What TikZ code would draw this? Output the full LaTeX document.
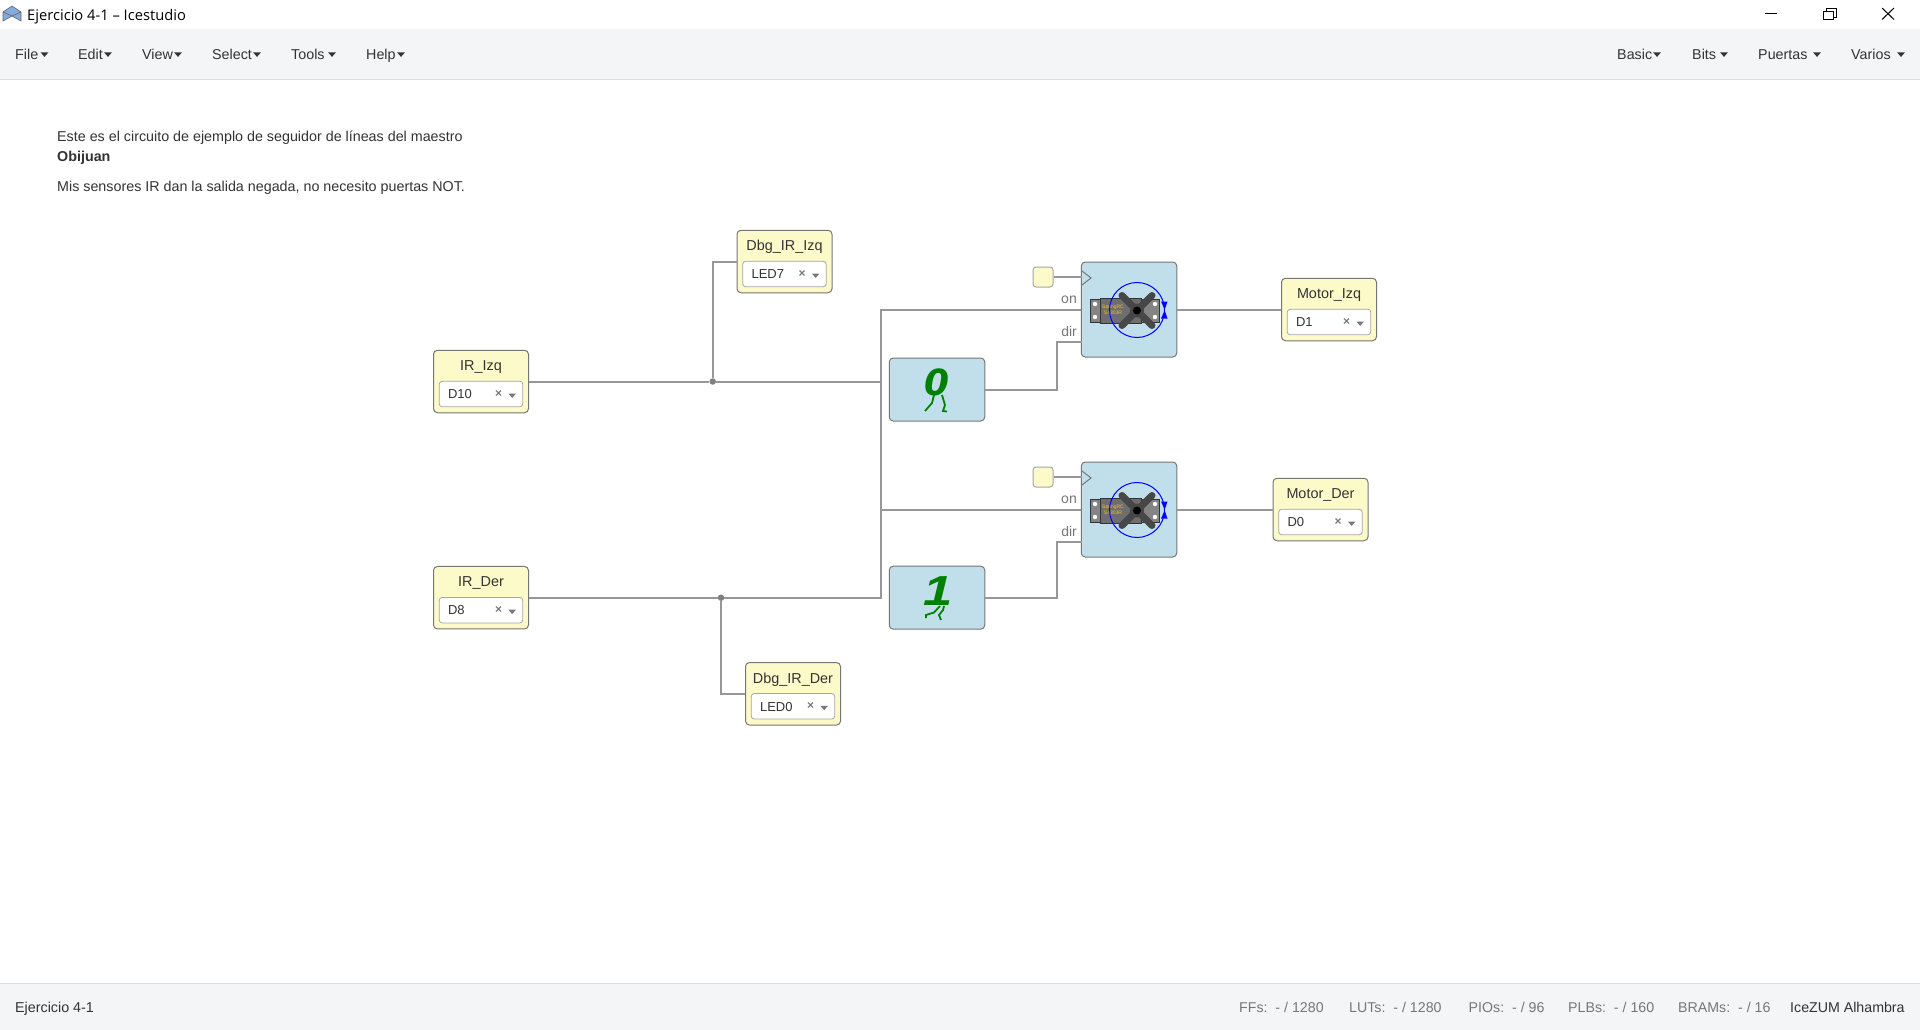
\documentclass[tikz,border=0pt]{standalone}
\usepackage{fontspec}
\setmainfont{Liberation Sans}
\newfontfamily\titlefont{Open Sans}
\newfontfamily\digitfont{DejaVu Sans}
\usepackage{xcolor}
\usetikzlibrary{positioning}
\definecolor{BarGray}{HTML}{F4F5F7}
\definecolor{BarLine}{HTML}{DDDDDD}
\definecolor{PioYellow}{HTML}{FCFAC8}
\definecolor{CodeBlue}{HTML}{C1DFEB}
\definecolor{BlockEdge}{HTML}{777777}
\definecolor{WireGray}{HTML}{979797}
\definecolor{InkDark}{HTML}{333333}
\definecolor{InkGray}{HTML}{777777}
\definecolor{DigitGreen}{HTML}{008000}
\definecolor{HornGray}{HTML}{474747}
\definecolor{BodyGray}{HTML}{6E6E6E}
\definecolor{BrandYellow}{HTML}{F7C325}

% block with a name on top and a pin selector below
\newcommand{\pioblock}[4]{%
  \node[pio] (#1) at (#2) {};
  \node[piolabel] (#1name) at ([yshift=14.3]#1.center) {#3};
  \node[pinbox] (#1box) at ([yshift=-12.5]#1.center) {};
  \node[pinvalue] (#1pin) at ([xshift=9,yshift=-0.3]#1box.west) {#4};
  \node[pinclear] (#1clear) at ([xshift=-24.5]#1box.east) {×};
  \pic at ([xshift=-11,yshift=-1.5]#1box.east) {caret=InkGray};
}

\tikzset{
  caret/.pic={\fill[#1] (-3.8,-2) -- (3.8,-2) -- (0,2.4) -- cycle;},
  servo/.pic={
    % plate and body
    \draw[black!80, fill=BodyGray!85, line width=0.5] (-39,-10.5) rectangle (30,12.5);
    \draw[black!80, fill=BodyGray, line width=0.5] (-29,-11.5) rectangle (12,13.5);
    \fill[white] (-34,-5.5) circle (2.2) (-34,7.5) circle (2.2) (26,-5.5) circle (2.2) (26,7.5) circle (2.2);
    \node[brand] (brand) at (-16,0.5) {SpringRC\\S4303R};
    % horn
    \draw[HornGray, line width=7, line cap=round] (-7,-14) -- (23,16) (-7,16) -- (23,-14);
    \fill[HornGray] (8,1) circle (7);
    \fill[black] (8,1) circle (4);
    % rotation arrows
    \draw[blue, line width=1] (8,0.5) circle (27.5);
    \fill[blue] (32,-8) -- (38.5,-8) -- (35.7,0) -- cycle;
    \fill[blue] (32,9) -- (38.5,9) -- (35.7,1) -- cycle;
  }
}

\begin{document}
\begin{tikzpicture}[
  x=1pt, y=-1pt,
  pio/.style={rectangle, rounded corners=4pt, draw=BlockEdge, fill=PioYellow, line width=1pt, minimum width=95pt, minimum height=62.5pt, inner sep=0pt},
  code/.style={rectangle, rounded corners=4pt, draw=BlockEdge, fill=CodeBlue, line width=1pt, minimum width=95.5pt, minimum height=#1, inner sep=0pt},
  clockbox/.style={rectangle, rounded corners=3pt, draw=gray!70, fill=PioYellow, line width=1pt, minimum width=20pt, minimum height=20pt, inner sep=0pt},
  junct/.style={circle, fill=WireGray!85!black, minimum size=6.5pt, inner sep=0pt},
  wire/.style={draw=WireGray, line width=2pt},
  clockmark/.style={draw=InkGray, line width=1pt},
  piolabel/.style={font=\fontsize{14.4}{16}\selectfont, text=InkDark, text height=10pt, text depth=3pt, inner sep=0pt},
  pinbox/.style={rectangle, rounded corners=3pt, draw=gray!70, fill=white, line width=0.8pt, minimum width=83.5pt, minimum height=25.5pt, inner sep=0pt},
  pinvalue/.style={anchor=west, font=\fontsize{13}{14}\selectfont, text=InkDark, inner sep=0pt},
  pinclear/.style={font=\fontsize{12}{14}\selectfont\bfseries, text=InkGray, inner sep=0pt},
  portlabel/.style={anchor=east, font=\fontsize{14}{16}\selectfont, text=InkGray, text height=10pt, text depth=3pt, inner sep=0pt},
  digit/.style={font=\fontsize{#1}{#1}\selectfont\bfseries\itshape, text=DigitGreen, inner sep=0pt},
  leg/.style={draw=DigitGreen, line width=1.8pt},
  brand/.style={font=\fontsize{5}{5.6}\selectfont, text=BrandYellow, align=center, inner sep=0pt},
  menu/.style={anchor=west, font=\fontsize{14.3}{16}\selectfont, text=InkDark, text height=10pt, text depth=3pt, inner sep=0pt},
  note/.style={anchor=west, font=\fontsize{14.3}{16}\selectfont, text=InkDark, text height=10pt, text depth=3pt, inner sep=0pt},
  stat/.style={anchor=west, font=\fontsize{14.2}{16}\selectfont, text=InkGray, text height=10pt, text depth=3pt, inner sep=0pt}
]
\useasboundingbox (0,0) rectangle (1920,1030);

% Window and bars
\fill[white] (0,0) rectangle (1920,1030);
\fill[BarGray] (0,29) rectangle (1920,79);
\draw[BarLine, line width=1pt] (0,79.5) -- (1920,79.5);
\fill[BarGray] (0,983) rectangle (1920,1030);
\draw[BarLine, line width=1pt] (0,983) -- (1920,983);

% Title bar
\draw[black!60, fill=cyan!55!blue!50, line width=0.6] (3,12) -- (12,6) -- (21,12) -- (21,21) -- (12,16) -- (3,21) -- cycle;
\draw[black!60, line width=0.6] (3,12) -- (12,16) -- (21,12);
\node[anchor=west, inner sep=0pt, font=\titlefont\fontsize{14.7}{16}\selectfont, text=black] (title) at (27,16.5) {Ejercicio 4-1 – Icestudio};
\draw[black, line width=1pt] (1765,13.5) -- (1777,13.5);
\draw[black, line width=1pt] (1823.5,11.5) rectangle (1833.5,20) (1826,11.5) -- (1826,8.5) -- (1836,8.5) -- (1836,17.5) -- (1833.5,17.5);
\draw[black, line width=1pt] (1882,8) -- (1894,19.5) (1894,8) -- (1882,19.5);

% Menus
\node[menu] (mfile) at (15,56) {File};
\node[menu] (medit) at (78,56) {Edit};
\node[menu] (mview) at (142,56) {View};
\node[menu] (mselect) at (212,56) {Select};
\node[menu] (mtools) at (291,56) {Tools};
\node[menu] (mhelp) at (366,56) {Help};
\node[menu] (mbasic) at (1617,56) {Basic};
\node[menu] (mbits) at (1692,56) {Bits};
\node[menu] (mpuertas) at (1758,56) {Puertas};
\node[menu] (mvarios) at (1851,56) {Varios};
\pic at (44.5,54.5) {caret=InkDark};
\pic at (108,54.5) {caret=InkDark};
\pic at (178,54.5) {caret=InkDark};
\pic at (257,54.5) {caret=InkDark};
\pic at (332,54.5) {caret=InkDark};
\pic at (401,54.5) {caret=InkDark};
\pic at (1657,54.5) {caret=InkDark};
\pic at (1724,54.5) {caret=InkDark};
\pic at (1817,54.5) {caret=InkDark};
\pic at (1901,54.5) {caret=InkDark};

% Comment text
\node[note] (noteone) at (57,137.8) {Este es el circuito de ejemplo de seguidor de líneas del maestro};
\node[note] (notetwo) at (57,157.8) {\bfseries Obijuan};
\node[note] (notethree) at (57,188.2) {Mis sensores IR dan la salida negada, no necesito puertas NOT.};

% Input and output blocks
\pioblock{irizq}{481,381.5}{IR\_Izq}{D10}
\pioblock{irder}{481,597.7}{IR\_Der}{D8}
\pioblock{dbgizq}{784.5,261.5}{Dbg\_IR\_Izq}{LED7}
\pioblock{dbgder}{793,693.8}{Dbg\_IR\_Der}{LED0}
\pioblock{motorizq}{1329,309.5}{Motor\_Izq}{D1}
\pioblock{motorder}{1320.5,509.5}{Motor\_Der}{D0}

% Constant blocks
\node[code=63pt] (cero) at (937,389.5) {};
\node[digit=37, font=\digitfont\fontsize{36}{36}\selectfont\bfseries\itshape] (cerodigit) at (937,382) {0};
\draw[leg] (934,395) -- (932,403) -- (925,411) (942,395) -- (945,405) -- (943,411) -- (947,411.5);
\node[code=63pt] (uno) at (937,597.7) {};
\node[digit=42, xscale=1.25, transform shape] (unodigit) at (938.5,591) {1};
\draw[leg] (940,606) -- (934,612.5) -- (926,615) -- (926,618) (944,606) -- (943,610) -- (939,615) -- (941,620);

% Servo blocks
\node[code=95pt] (servoizq) at (1129,309.5) {};
\pic (imgizq) at (servoizq.center) {servo};
\node[code=95pt] (servoder) at (1129,509.5) {};
\pic (imgder) at (servoder.center) {servo};
\node[clockbox] (clkizq) at (1043,277) {};
\node[clockbox] (clkder) at (1043,477) {};
\coordinate (clkportizq) at (1082,277);
\coordinate (clkportder) at (1082,477);
\coordinate (dirizq) at (1082,342);
\coordinate (dirder) at (1082,542);
\draw[clockmark] (1082,271) -- (1091,278) -- (1082,285);
\draw[clockmark] (1082,471) -- (1091,478) -- (1082,485);
\node[portlabel] (onizqlabel) at (1077,299.5) {on};
\node[portlabel] (dirizqlabel) at (1077,332.5) {dir};
\node[portlabel] (onderlabel) at (1077,499.5) {on};
\node[portlabel] (dirderlabel) at (1077,532.5) {dir};

% Wires
\node[junct] (jizq) at (712.7,381.5) {};
\node[junct] (jder) at (721,597.7) {};
\coordinate (busizq) at (881,381.5);
\coordinate (busmid) at (881,509.5);
\coordinate (busder) at (881,597.7);
\coordinate (bendizq) at (1057,389.5);
\coordinate (bendder) at (1057,597.7);
\draw[wire] (irizq.east) -- (jizq) -- (busizq);
\draw[wire] (irder.east) -- (jder) -- (busder) |- (servoizq.west);
\draw[wire] (busmid) -- (servoder.west);
\draw[wire] (jizq) |- (dbgizq.west);
\draw[wire] (jder) |- (dbgder.west);
\draw[wire] (cero.east) -- (bendizq) |- (dirizq);
\draw[wire] (uno.east) -- (bendder) |- (dirder);
\draw[wire] (clkizq.east) -- (clkportizq);
\draw[wire] (clkder.east) -- (clkportder);
\draw[wire] (servoizq.east) -- (motorizq.west);
\draw[wire] (servoder.east) -- (motorder.west);

% Status bar
\node[menu] (sbname) at (15,1008.8) {Ejercicio 4-1};
\node[stat] (sbffs) at (1239,1008.8) {FFs:\ \ - / 1280};
\node[stat] (sbluts) at (1349,1008.8) {LUTs:\ \ - / 1280};
\node[stat] (sbpios) at (1468.5,1008.8) {PIOs:\ \ - / 96};
\node[stat] (sbplbs) at (1568,1008.8) {PLBs:\ \ - / 160};
\node[stat] (sbbrams) at (1678,1008.8) {BRAMs:\ \ - / 16};
\node[menu, font=\fontsize{14.2}{16}\selectfont] (sbboard) at (1790,1008.8) {IceZUM Alhambra};

\end{tikzpicture}
\end{document}
